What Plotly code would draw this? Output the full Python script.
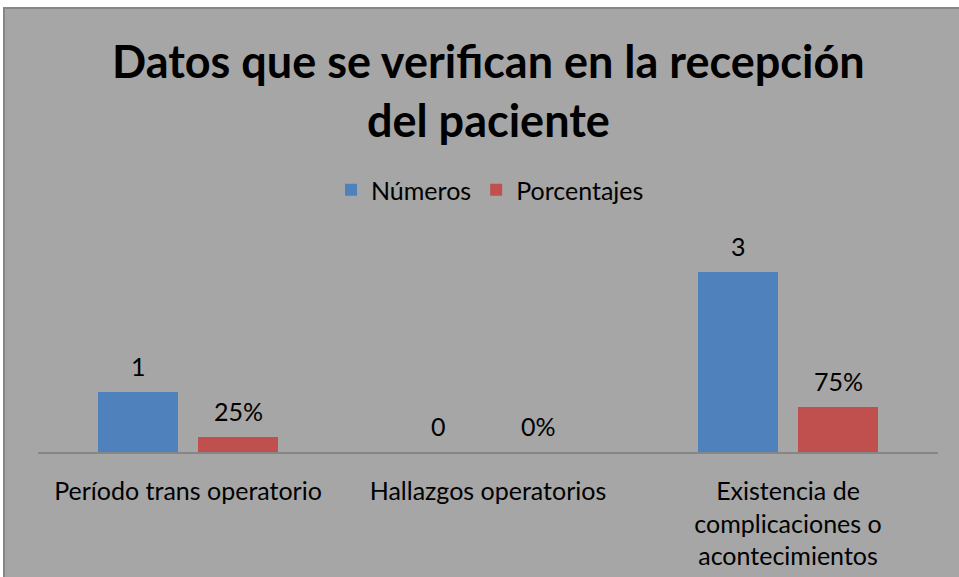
import plotly.graph_objects as go

categories = ["Período trans operatorio", "Hallazgos operatorios",
              "Existencia de<br>complicaciones o<br>acontecimientos"]
numeros = [1, 0, 3]
porcentajes = [0.25, 0.0, 0.75]
numeros_labels = ["1", "0", "3"]
porcentajes_labels = ["25%", "0%", "75%"]

BG = "#A6A6A6"
FONT = "Lato, 'Open Sans', sans-serif"
FS = 25

fig = go.Figure()
fig.add_trace(go.Bar(name="Números", x=categories, y=numeros,
                     marker=dict(color="#4F81BD", line=dict(width=0))))
fig.add_trace(go.Bar(name="Porcentajes", x=categories, y=porcentajes,
                     marker=dict(color="#C0504D", line=dict(width=0))))

annotations = []
for cat, v, lab in zip(categories, numeros, numeros_labels):
    annotations.append(dict(x=cat, y=v, xref="x", yref="y", text=lab, showarrow=False,
                            xshift=-50, yshift=26, yanchor="middle",
                            font=dict(size=FS, color="black", family=FONT)))
for cat, v, lab in zip(categories, porcentajes, porcentajes_labels):
    annotations.append(dict(x=cat, y=v, xref="x", yref="y", text=lab, showarrow=False,
                            xshift=50, yshift=26, yanchor="middle",
                            font=dict(size=FS, color="black", family=FONT)))

# plot area: x 38..938, y 254..452
W, H = 959, 577
L, R, T, B = 38, 21, 254, 125
pw, ph = W - L - R, H - T - B

fig.add_shape(type="rect", xref="paper", yref="paper",
              x0=(4 - L) / pw, x1=1.2, y0=-1.5, y1=(H - B - 8) / ph,
              fillcolor=BG, line=dict(color="#868686", width=2), layer="below")

annotations.append(dict(
    xref="paper", yref="paper", x=(488 - L) / pw, y=(H - B - 91) / ph,
    text="<b>Datos que se verifican en la recepción<br>del paciente</b>",
    showarrow=False, yanchor="middle", xanchor="center",
    font=dict(size=45, color="black", family=FONT)))

fig.update_layout(
    width=W, height=H,
    margin=dict(l=L, r=R, t=T, b=B, autoexpand=False),
    paper_bgcolor="white", plot_bgcolor=BG,
    barmode="group", bargap=1/3, bargroupgap=0.2,
    showlegend=True,
    legend=dict(orientation="h", x=(490 - L) / pw, xanchor="center",
                y=(H - B - 190) / ph, yanchor="middle",
                font=dict(size=FS, color="black", family=FONT),
                bgcolor="rgba(0,0,0,0)", itemsizing="constant"),
    annotations=annotations,
    font=dict(family=FONT, color="black"),
)
fig.update_xaxes(showline=True, linecolor="#868686", linewidth=2, ticks="",
                 showgrid=False, tickfont=dict(size=FS, color="black", family=FONT),
                 ticklabelstandoff=16, automargin=False, fixedrange=True)
fig.update_yaxes(range=[0, 3.3], visible=False, showgrid=False, zeroline=False,
                 automargin=False, fixedrange=True)

fig.write_html("out.html", config={"displayModeBar": False},
               post_script="document.body.style.margin='0';document.body.style.overflow='hidden';")
